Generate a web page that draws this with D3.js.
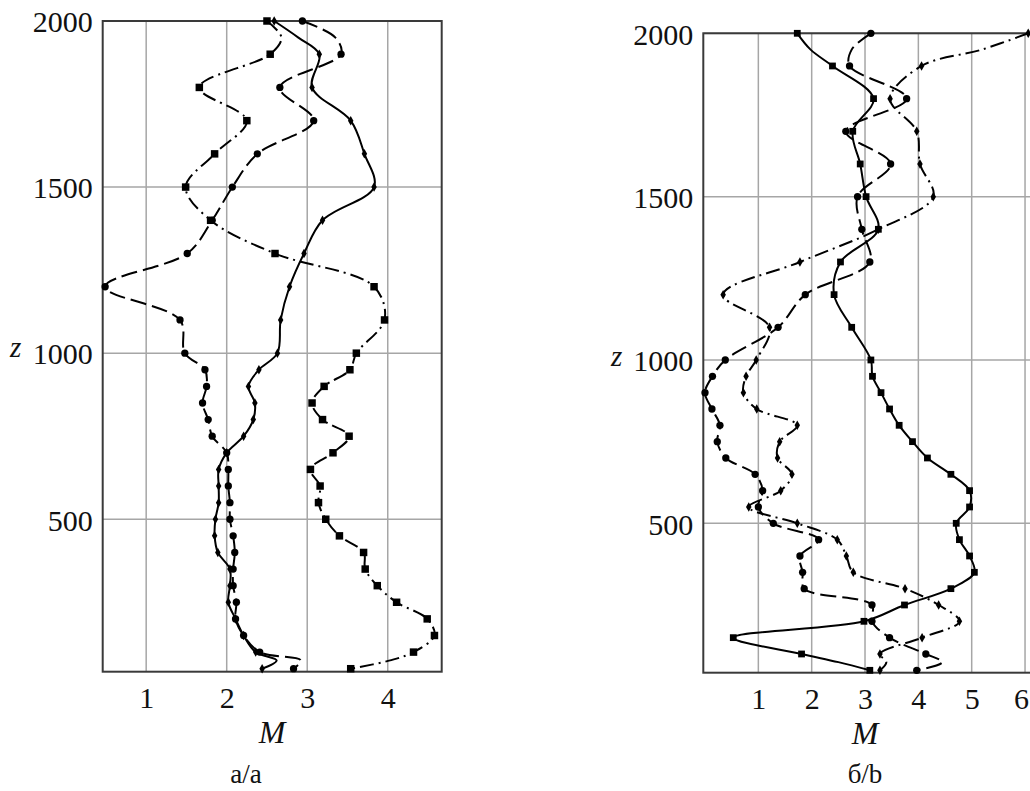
<!DOCTYPE html>
<html>
<head>
<meta charset="utf-8">
<script src="https://cdn.jsdelivr.net/npm/d3@7"></script>
<style>
  html, body { margin: 0; padding: 0; background: #fff; }
  svg { display: block; }
  text { font-family: "Liberation Serif", "Times New Roman", serif; fill: #111; }
</style>
</head>
<body>
<svg id="chart" width="1030" height="791"></svg>
<script>
// ---- data ----
const zLevels = [2000,1950,1900,1800,1700,1600,1500,1400,1300,1200,1100,1000,
                 950,900,850,800,750,700,650,600,550,500,450,400,350,300,250,200,150,100,75,50];

// panel a
const aSolid   = [2.59,2.89,3.15,3.06,3.54,3.71,3.83,3.19,2.96,2.78,2.67,2.63,
                  2.40,2.27,2.35,2.33,2.21,2.00,1.90,1.90,1.90,1.86,1.85,1.89,2.04,2.04,2.02,2.11,2.21,2.36,2.62,2.44];
const aDashed  = [2.94,3.35,3.42,2.66,3.08,2.38,2.07,1.82,1.51,0.49,1.42,1.48,
                  1.73,1.75,1.70,1.77,1.82,2.00,2.02,2.02,2.04,2.04,2.08,2.10,2.08,2.08,2.12,2.11,2.21,2.41,2.92,2.83];
const aDashDot = [2.50,2.68,2.54,1.66,2.25,1.85,1.49,1.80,2.60,3.83,3.96,3.61,
                  3.53,3.21,3.06,3.19,3.52,3.32,3.04,3.16,3.14,3.23,3.40,3.70,3.72,3.87,4.11,4.49,4.58,4.32,4.03,3.54];

// panel b
const bSolid   = [1.73,1.98,2.39,3.16,2.77,2.91,3.02,3.25,2.54,2.42,2.75,3.11,
                  3.14,3.30,3.46,3.64,3.89,4.17,4.61,4.96,4.96,4.71,4.77,4.96,5.05,4.61,3.74,2.98,0.53,1.81,2.50,3.09];
const bDashed  = [3.11,2.75,2.71,3.78,2.64,3.48,2.86,2.94,3.09,1.88,1.37,0.38,
                  0.14,0.00,0.13,0.28,0.23,0.39,0.94,1.08,1.00,1.28,2.13,1.78,1.83,1.86,3.13,3.13,3.46,4.14,4.45,3.97];
const bDashDot = [6.06,5.19,4.06,3.47,3.97,4.03,4.28,3.25,1.78,0.34,1.21,0.96,
                  0.77,0.72,0.97,1.73,1.40,1.36,1.63,1.42,0.82,1.73,2.48,2.65,2.78,3.75,4.38,4.77,4.07,3.28,3.40,3.28];

const aXTicks = [1,2,3,4];
const bXTicks = [1,2,3,4,5,6];
const zTicks  = [500,1000,1500,2000];
const captions = ["а/a", "б/b"];

// ---- layout ----
const svg = d3.select("#chart");

const panels = [
  {
    id: "a",
    x: d3.scaleLinear().domain([0.46, 4.67]).range([102.7, 441.7]),
    y: d3.scaleLinear().domain([41, 2000]).range([671.7, 21]),
    xTicks: aXTicks,
    series: [
      {vals: aSolid,   dash: null,        marker: "diamond"},
      {vals: aDashed,  dash: "16,6",      marker: "circle"},
      {vals: aDashDot, dash: "14,5,2,5",  marker: "square"}
    ],
    zLabel: {x: 10, y: 357},
    mLabel: {x: 272, y: 743},
    caption: {x: 246, y: 783, text: captions[0]},
    sqSize: 56
  },
  {
    id: "b",
    x: d3.scaleLinear().domain([-0.032, 6.5]).range([703.3, 1051.7]),
    y: d3.scaleLinear().domain([42.7, 2000]).range([672.7, 33.3]),
    xTicks: bXTicks,
    series: [
      {vals: bSolid,   dash: null,        marker: "square"},
      {vals: bDashed,  dash: "16,6",      marker: "circle"},
      {vals: bDashDot, dash: "14,5,2,5",  marker: "diamond"}
    ],
    zLabel: {x: 611, y: 366},
    mLabel: {x: 865, y: 744},
    caption: {x: 865, y: 783, text: captions[1]},
    sqSize: 46
  }
];

function isMarked(z) { return z >= 1000 ? z % 100 === 0 : z % 50 === 0; }

panels.forEach(p => {
  const g = svg.append("g");
  const [x0, x1] = p.x.range();
  const [yb, yt] = p.y.range();

  const clipId = "clip-" + p.id;
  svg.append("defs").append("clipPath").attr("id", clipId)
    .append("rect").attr("x", x0).attr("y", yt - 6).attr("width", x1 - x0).attr("height", yb - yt + 12);

  // grid
  g.append("g").selectAll("line").data(p.xTicks).join("line")
    .attr("x1", d => p.x(d)).attr("x2", d => p.x(d))
    .attr("y1", yt).attr("y2", yb)
    .attr("stroke", "#a6a6a6").attr("stroke-width", 1.5);
  g.append("g").selectAll("line").data(zTicks).join("line")
    .attr("x1", x0).attr("x2", x1)
    .attr("y1", d => p.y(d)).attr("y2", d => p.y(d))
    .attr("stroke", "#a6a6a6").attr("stroke-width", 1.5);

  // frame
  g.append("rect").attr("x", x0).attr("y", yt).attr("width", x1 - x0).attr("height", yb - yt)
    .attr("fill", "none").attr("stroke", "#3a3a3a").attr("stroke-width", 2);

  // axes (labels only)
  const ax = g.append("g").attr("transform", `translate(0,${yb})`)
    .call(d3.axisBottom(p.x).tickValues(p.xTicks).tickSize(0).tickPadding(15).tickFormat(d3.format("d")));
  ax.select(".domain").remove();
  ax.selectAll("text").attr("font-size", 30).attr("font-family", "Liberation Serif").attr("fill", "#111");
  ax.selectAll(".tick").filter(d => p.x(d) > 1015).select("text").attr("dx", -4);

  const ay = g.append("g").attr("transform", `translate(${x0},0)`)
    .call(d3.axisLeft(p.y).tickValues(zTicks).tickSize(0).tickPadding(10).tickFormat(d3.format("d")));
  ay.select(".domain").remove();
  ay.selectAll("text").attr("font-size", 30).attr("font-family", "Liberation Serif")
    .attr("fill", "#111").attr("dy", "0.36em");

  // lines
  const line = d3.line()
    .x(d => p.x(d.m)).y(d => p.y(d.z))
    .curve(d3.curveCatmullRom.alpha(0.5));

  const lg = g.append("g").attr("clip-path", `url(#${clipId})`);
  p.series.forEach(s => {
    const pts = zLevels.map((z, i) => ({z, m: s.vals[i]}));
    lg.append("path").datum(pts)
      .attr("d", line)
      .attr("fill", "none").attr("stroke", "#000").attr("stroke-width", 2)
      .attr("stroke-linecap", "butt")
      .attr("stroke-dasharray", s.dash);
  });

  // markers
  p.series.forEach(s => {
    const pts = zLevels.map((z, i) => ({z, m: s.vals[i]})).filter(d => isMarked(d.z));
    let sym;
    if (s.marker === "square") sym = d3.symbol().type(d3.symbolSquare).size(p.sqSize);
    else if (s.marker === "circle") sym = d3.symbol().type(d3.symbolCircle).size(42);
    else sym = d3.symbol().type(d3.symbolDiamond).size(26);
    g.append("g").selectAll("path").data(pts).join("path")
      .attr("d", sym)
      .attr("transform", d => `translate(${p.x(d.m)},${p.y(d.z)})`)
      .attr("fill", "#000");
  });

  // labels
  g.append("text").attr("x", p.zLabel.x).attr("y", p.zLabel.y)
    .attr("font-size", 29).attr("font-style", "italic").text("z");
  g.append("text").attr("x", p.mLabel.x).attr("y", p.mLabel.y)
    .attr("text-anchor", "middle").attr("font-size", 32).attr("font-style", "italic").text("M");
  g.append("text").attr("x", p.caption.x).attr("y", p.caption.y)
    .attr("text-anchor", "middle").attr("font-size", 27).text(p.caption.text);
});
</script>
</body>
</html>
